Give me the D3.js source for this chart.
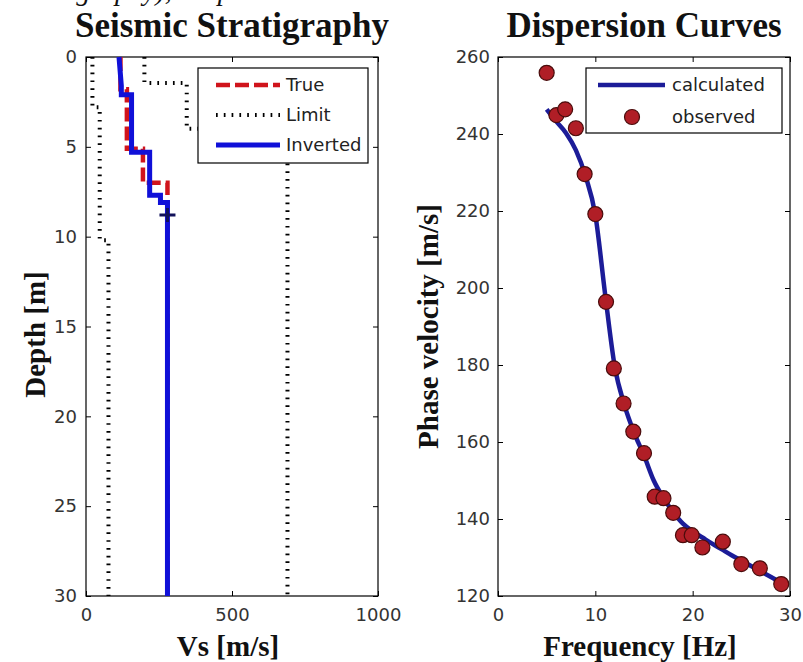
<!DOCTYPE html>
<html>
<head>
<meta charset="utf-8">
<script src="https://cdn.jsdelivr.net/npm/d3@7"></script>
<style>
  body { margin: 0; background: #fff; }
  svg { display: block; }
  .tick text { font-family: "DejaVu Sans", sans-serif; font-size: 18px; fill: #333; }
  .tick line { stroke: #000; stroke-width: 1; }
  .title, .label { font-family: "Liberation Serif", "Times New Roman", serif; font-weight: bold; fill: #111; }
  .legend text { font-family: "DejaVu Sans", sans-serif; font-size: 18px; fill: #222; }
</style>
</head>
<body>
<svg></svg>
<script>
// ---- left panel: Vs profiles, [depth (m), Vs (m/s)] ----
const depthTicks = [0, 5, 10, 15, 20, 25, 30];
const vsTicks = [0, 500, 1000];
const trueProfile = [[0, 118], [1.8, 118], [1.8, 140], [5.1, 140], [5.1, 195], [7.0, 195], [7.0, 279], [30, 279]];
const limitLow = [[0, 22], [2.8, 22], [2.8, 47], [10.2, 47], [10.2, 77], [30, 77]];
const limitHigh = [[0, 200], [1.45, 200], [1.45, 345], [4.0, 345], [4.0, 690], [30, 690]];
const invertedProfile = [[0, 113], [1.6, 121], [2.1, 121], [2.1, 156], [5.3, 156], [5.3, 218], [7.7, 218], [7.7, 255], [8.1, 255], [8.1, 279], [30, 279]];
const halfSpaceMark = [[8.8, 279]];
const leftLegend = ["True", "Limit", "Inverted"];

// ---- right panel: dispersion curves ----
const freqTicks = [0, 10, 20, 30];
const velTicks = [120, 140, 160, 180, 200, 220, 240, 260];
const calcFreq = [5, 6, 7, 8, 9, 10, 11, 12, 13, 14, 15, 16, 17, 18, 19, 20, 21, 22, 23, 24, 25, 26, 27, 28, 29, 29.5];
const calcVel = [246.4, 243.2, 240.2, 235.8, 229.0, 219.0, 198.5, 179.5, 169.5, 162.3, 156.5, 150.0, 145.5, 141.8, 138.8, 136.8, 135.2, 133.6, 132.1, 130.6, 129.2, 127.8, 126.4, 125.0, 123.6, 122.9];
const obsFreq = [5.0, 6.0, 6.9, 8.0, 8.9, 10.0, 11.1, 11.9, 12.9, 13.9, 15.0, 16.1, 17.0, 18.0, 19.0, 19.9, 21.0, 23.1, 25.0, 26.9, 29.1];
const obsVel = [255.9, 244.9, 246.4, 241.5, 229.6, 219.2, 196.4, 179.1, 170.0, 162.7, 157.1, 145.8, 145.4, 141.6, 135.8, 135.8, 132.6, 134.1, 128.3, 127.2, 123.1];
const rightLegend = ["calculated", "observed"];

makeChart();

function makeChart() {
  const svg = d3.select("svg").attr("width", 803).attr("height", 662);
  const top = 57, plotH = 539, plotW = 292;

  // caption line of the page above, cut off at the top edge (only descenders show)
  svg.append("text")
    .attr("x", 17).attr("y", 0)
    .style("font-family", "Liberation Serif, serif").style("font-style", "italic")
    .style("font-size", "28px").style("fill", "#111")
    .text("stratigraphy), Dispersion curves");

  // ---------- left panel ----------
  const gL = svg.append("g").attr("transform", `translate(86,${top})`);
  const xL = d3.scaleLinear().domain([0, 1000]).range([0, plotW]);
  const yL = d3.scaleLinear().domain([0, 30]).range([0, plotH]);
  drawAxes(gL, xL, yL, vsTicks, depthTicks, 9);

  const prof = d3.line().x(d => xL(d[1])).y(d => yL(d[0]));

  [limitLow, limitHigh].forEach(p => {
    gL.append("path").attr("d", prof(p))
      .attr("fill", "none").attr("stroke", "#000")
      .attr("stroke-width", 4).attr("stroke-dasharray", "1.7,6.1");
  });
  gL.append("path").attr("d", prof(trueProfile))
    .attr("fill", "none").attr("stroke", "#d0141c")
    .attr("stroke-width", 4.5).attr("stroke-dasharray", "14,5");
  gL.append("path").attr("d", prof(invertedProfile))
    .attr("fill", "none").attr("stroke", "#1010d8").attr("stroke-width", 5);
  halfSpaceMark.forEach(d => {
    const cx = xL(d[1]), cy = yL(d[0]);
    gL.append("path").attr("d", `M${cx - 8},${cy}H${cx + 8}M${cx},${cy - 7}V${cy + 7}`)
      .attr("stroke", "#12125a").attr("stroke-width", 3);
  });

  // legend
  const legL = gL.append("g").attr("class", "legend").attr("transform", "translate(112,11)");
  legL.append("rect").attr("width", 170).attr("height", 95)
    .attr("fill", "#fff").attr("stroke", "#000").attr("stroke-width", 1.2);
  const legStyles = [
    {stroke: "#d0141c", w: 4.5, dash: "14,5"},
    {stroke: "#000", w: 4, dash: "1.7,6.1"},
    {stroke: "#1010d8", w: 5, dash: null}
  ];
  leftLegend.forEach((name, i) => {
    const cy = 17 + i * 30;
    legL.append("line").attr("x1", 18).attr("x2", 82).attr("y1", cy).attr("y2", cy)
      .attr("stroke", legStyles[i].stroke).attr("stroke-width", legStyles[i].w)
      .attr("stroke-dasharray", legStyles[i].dash);
    legL.append("text").attr("x", 88).attr("y", cy).attr("dy", "0.36em").text(name);
  });

  gL.append("text").attr("class", "title").attr("x", plotW / 2).attr("y", 37 - top)
    .attr("text-anchor", "middle").style("font-size", "35px").text("Seismic Stratigraphy");
  gL.append("text").attr("class", "label").attr("x", plotW / 2 - 4).attr("y", 656 - top)
    .attr("text-anchor", "middle").style("font-size", "29px").text("Vs [m/s]");
  gL.append("text").attr("class", "label")
    .attr("transform", `translate(${45 - 86},${plotH / 2 + 8}) rotate(-90)`)
    .attr("text-anchor", "middle").style("font-size", "29px").text("Depth [m]");

  // ---------- right panel ----------
  const gR = svg.append("g").attr("transform", `translate(498,${top})`);
  const xR = d3.scaleLinear().domain([0, 30]).range([0, plotW]);
  const yR = d3.scaleLinear().domain([120, 260]).range([plotH, 0]);
  drawAxes(gR, xR, yR, freqTicks, velTicks, 8);

  const calc = calcFreq.map((f, i) => [f, calcVel[i]]);
  const obs = obsFreq.map((f, i) => [f, obsVel[i]]);

  gR.append("path")
    .attr("d", d3.line().x(d => xR(d[0])).y(d => yR(d[1])).curve(d3.curveMonotoneX)(calc))
    .attr("fill", "none").attr("stroke", "#1c1c98").attr("stroke-width", 4.5);
  gR.selectAll(".obs").data(obs).enter().append("circle")
    .attr("class", "obs")
    .attr("cx", d => xR(d[0])).attr("cy", d => yR(d[1])).attr("r", 7.5)
    .attr("fill", "#b01e26").attr("stroke", "#4a0c0c").attr("stroke-width", 1.2);

  const legR = gR.append("g").attr("class", "legend").attr("transform", "translate(88,11)");
  legR.append("rect").attr("width", 196).attr("height", 65)
    .attr("fill", "#fff").attr("stroke", "#000").attr("stroke-width", 1.2);
  legR.append("line").attr("x1", 12).attr("x2", 79).attr("y1", 17).attr("y2", 17)
    .attr("stroke", "#1c1c98").attr("stroke-width", 4.5);
  legR.append("circle").attr("cx", 46).attr("cy", 49).attr("r", 7.5)
    .attr("fill", "#b01e26").attr("stroke", "#4a0c0c").attr("stroke-width", 1.2);
  rightLegend.forEach((name, i) => {
    legR.append("text").attr("x", 86).attr("y", 17 + i * 32).attr("dy", "0.36em").text(name);
  });

  gR.append("text").attr("class", "title").attr("x", plotW / 2).attr("y", 37 - top)
    .attr("text-anchor", "middle").style("font-size", "35px").text("Dispersion Curves");
  gR.append("text").attr("class", "label").attr("x", plotW / 2 - 4).attr("y", 656 - top)
    .attr("text-anchor", "middle").style("font-size", "29px").text("Frequency [Hz]");
  gR.append("text").attr("class", "label")
    .attr("transform", `translate(${438 - 498},${plotH / 2}) rotate(-90)`)
    .attr("text-anchor", "middle").style("font-size", "29px").text("Phase velocity [m/s]");
}

// boxed axes with inward ticks on all four sides
function drawAxes(g, x, y, xTicks, yTicks, yPad) {
  const w = x.range()[1], h = Math.max(...y.range());
  g.append("g").attr("transform", `translate(0,${h})`)
    .call(d3.axisBottom(x).tickValues(xTicks).tickFormat(d => String(d))
      .tickSizeInner(-5).tickSizeOuter(0).tickPadding(12));
  g.append("g")
    .call(d3.axisTop(x).tickValues(xTicks).tickSizeInner(-5).tickSizeOuter(0).tickFormat(""));
  g.append("g")
    .call(d3.axisLeft(y).tickValues(yTicks).tickFormat(d => String(d))
      .tickSizeInner(-5).tickSizeOuter(0).tickPadding(yPad));
  g.append("g").attr("transform", `translate(${w},0)`)
    .call(d3.axisRight(y).tickValues(yTicks).tickSizeInner(-5).tickSizeOuter(0).tickFormat(""));
  g.selectAll(".domain").remove();
  g.append("rect").attr("width", w).attr("height", h)
    .attr("fill", "none").attr("stroke", "#000").attr("stroke-width", 1.2);
}
</script>
</body>
</html>
